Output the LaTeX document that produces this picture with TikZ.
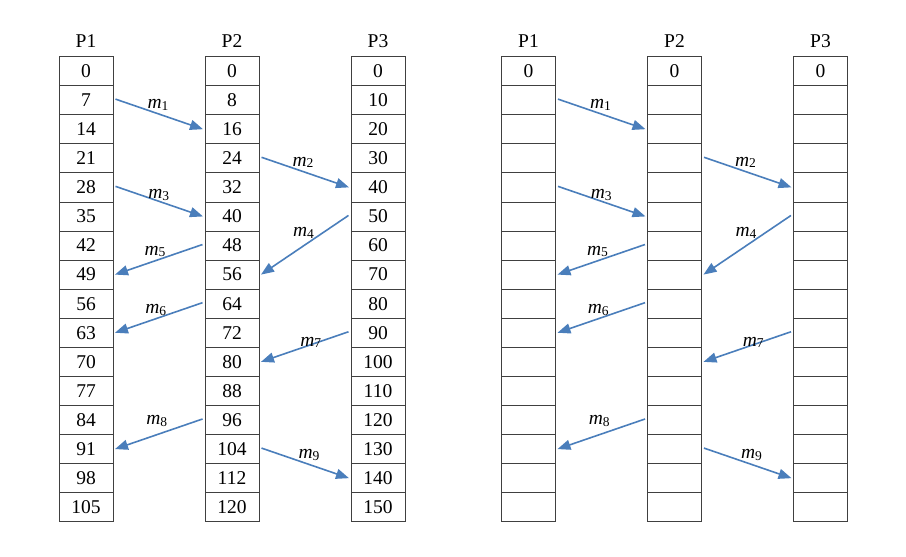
\documentclass[tikz,border=0pt]{standalone}
\usepackage{fontspec}
\setmainfont{Liberation Serif}
\usetikzlibrary{arrows.meta}
\definecolor{msgblue}{RGB}{74,126,187}
\tikzset{
 cell/.style={draw=black!75, line width=0.8pt, minimum width=54pt, minimum height=29.08pt, inner sep=0pt, outer sep=0pt, font=\fontsize{19.5}{20}\selectfont},
 head/.style={font=\fontsize{19.5}{20}\selectfont, inner sep=0pt},
 msg/.style={draw=msgblue, line width=1.6pt, -{Triangle[length=13pt,width=10pt]}},
 mlabel/.style={inner sep=0pt, font=\fontsize{19.5}{20}\selectfont}
}
\newcommand{\mlab}[1]{\textit{m}\raisebox{-1.5pt}{\fontsize{13.5}{14}\selectfont #1}}
\begin{document}
\begin{tikzpicture}[x=1pt,y=-1pt]
\useasboundingbox (0,0) rectangle (906,557);
% left panel
\foreach \p/\x/\s in {1/86/7, 2/232/8, 3/378/10} {
  \node[head] (LH\p) at (\x,41.3) {P\p};
  \foreach \r in {0,...,15} {
    \pgfmathtruncatemacro\v{\r*\s}
    \node[cell] (L\p-\r) at (\x, 71.04+29.08*\r) {\v};
  }
}
% right panel
\foreach \p/\x in {1/528.5, 2/674.5, 3/820.5} {
  \node[head] (RH\p) at (\x,41.3) {P\p};
  \node[cell] (R\p-0) at (\x, 71.04) {0};
  \foreach \r in {1,...,15} {
    \node[cell] (R\p-\r) at (\x, 71.04+29.08*\r) {};
  }
}
% messages
\foreach \S/\dx in {L/0, R/442.5} {
  \draw[msg] ([xshift=2.5pt,yshift=1pt]\S1-1.east) -- ([xshift=-2pt]\S2-2.west);
  \draw[msg] ([xshift=2.5pt,yshift=1pt]\S2-3.east) -- ([xshift=-2pt]\S3-4.west);
  \draw[msg] ([xshift=2.5pt,yshift=1pt]\S1-4.east) -- ([xshift=-2pt]\S2-5.west);
  \draw[msg] ([xshift=-2.5pt,yshift=1pt]\S3-5.west) -- ([xshift=2pt]\S2-7.east);
  \draw[msg] ([xshift=-2.5pt,yshift=1pt]\S2-6.west) -- ([xshift=2pt]\S1-7.east);
  \draw[msg] ([xshift=-2.5pt,yshift=1pt]\S2-8.west) -- ([xshift=2pt]\S1-9.east);
  \draw[msg] ([xshift=-2.5pt,yshift=1pt]\S3-9.west) -- ([xshift=2pt]\S2-10.east);
  \draw[msg] ([xshift=-2.5pt,yshift=1pt]\S2-12.west) -- ([xshift=2pt]\S1-13.east);
  \draw[msg] ([xshift=2.5pt,yshift=1pt]\S2-13.east) -- ([xshift=-2pt]\S3-14.west);
  \node[mlabel] (\S m1) at (158+\dx,105) {\mlab{1}};
  \node[mlabel] (\S m2) at (303+\dx,162.5) {\mlab{2}};
  \node[mlabel] (\S m3) at (158.7+\dx,195) {\mlab{3}};
  \node[mlabel] (\S m4) at (303.5+\dx,233) {\mlab{4}};
  \node[mlabel] (\S m5) at (155+\dx,251.5) {\mlab{5}};
  \node[mlabel] (\S m6) at (155.7+\dx,310) {\mlab{6}};
  \node[mlabel] (\S m7) at (310.8+\dx,342.5) {\mlab{7}};
  \node[mlabel] (\S m8) at (156.7+\dx,421) {\mlab{8}};
  \node[mlabel] (\S m9) at (309+\dx,455) {\mlab{9}};
}
\end{tikzpicture}
\end{document}
